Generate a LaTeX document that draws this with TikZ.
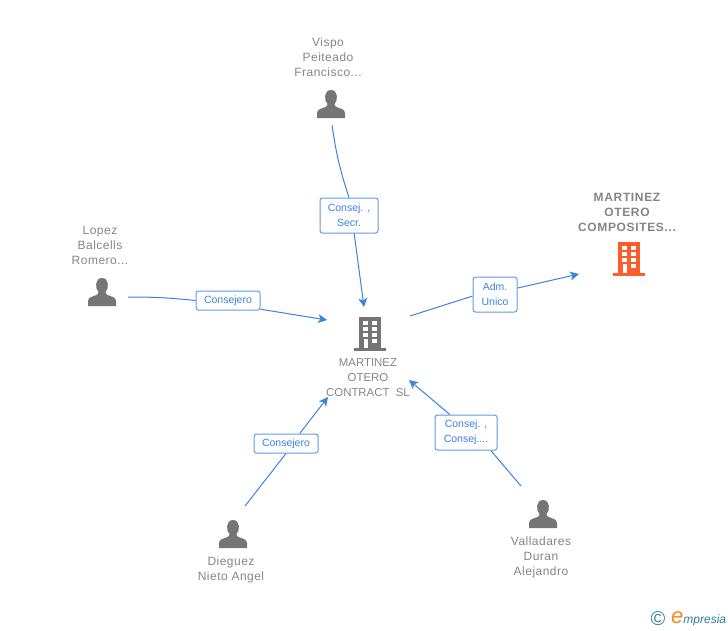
\documentclass[tikz,border=0pt]{standalone}
\usepackage{fontspec}
\setmainfont{Liberation Sans}
\usetikzlibrary{arrows.meta}
\definecolor{name_grey}{HTML}{858585}
\definecolor{icon_grey}{HTML}{757575}
\definecolor{link_blue}{HTML}{3C82E0}
\definecolor{box_blue}{HTML}{5F9BE6}
\definecolor{company_red}{HTML}{FF5C2E}
\definecolor{logo_teal}{HTML}{2F7F96}
\definecolor{logo_orange}{HTML}{F08A1D}
\tikzset{
    name_text/.style = {text = name_grey, align = center, inner sep = 0pt,
        font = \fontsize{12}{15}\selectfont\addfontfeatures{LetterSpace = 4}},
    contract_text/.style = {name_text, font = \fontsize{11.4}{15}\selectfont},
    company_text/.style = {name_text, font = \fontsize{12}{15}\selectfont\bfseries\addfontfeatures{LetterSpace = 5.5}},
    link_box/.style = {draw = box_blue, line width = 1pt, fill = white, rounded corners = 2.5pt, text = link_blue,
        align = center, font = \fontsize{10.5}{15}\selectfont, inner sep = 0pt, minimum height = 19pt},
    two_lines/.style = {minimum height = 35pt},
    link_line/.style = {draw = link_blue, line width = 1pt},
    link_arrow/.style = {link_line, -{Stealth[length = 9pt, width = 9pt, inset = 2.5pt]}},
    person/.pic = {
        \fill[icon_grey] (-14,14) -- (-14,9) .. controls (-14,5) and (-9,4.5) .. (-5.5,3)
            .. controls (-4,2) and (-3.5,1) .. (-3.5,0) .. controls (-7,-3) and (-7.5,-14) .. (0,-14)
            .. controls (7.5,-14) and (7,-3) .. (3.5,0) .. controls (3.5,1) and (4,2) .. (5.5,3)
            .. controls (9,4.5) and (14,5) .. (14,9) -- (14,14) -- cycle;
    },
    building/.pic = {
        \fill[pic actions] (-11,-16) rectangle (11,15);
        \fill[pic actions] (-16,15) rectangle (16,17.5);
        \foreach \row in {-12,-6,0} {
            \fill[white] (-7,\row) rectangle ++(4.5,4);
            \fill[white] (2,\row) rectangle ++(4.5,4);
        }
        \fill[white] (2,6) rectangle ++(4.5,4);
        \fill[white] (-6,6) rectangle (-2.5,15);
    }
}
\begin{document}
\begin{tikzpicture}[x = 1pt, y = -1pt]
    \useasboundingbox (0,0) rectangle (728,630);
    % people and companies
    \node (vispo)[name_text] at (328,57) {Vispo\\Peiteado\\Francisco...};
    \node (lopez)[name_text] at (100,245) {Lopez\\Balcells\\Romero...};
    \node (dieguez)[name_text] at (231,570) {Dieguez\\Nieto Angel};
    \node (valladares)[name_text] at (541,557.5) {Valladares\\Duran\\Alejandro};
    \node (contract)[contract_text] at (368,378) {MARTINEZ\\OTERO\\CONTRACT\ \ SL};
    \node (composites)[company_text] at (627,212) {MARTINEZ\\OTERO\\COMPOSITES...};
    \pic at (331,104) {person};
    \pic at (102,292) {person};
    \pic at (233,534) {person};
    \pic at (543,514) {person};
    \pic[fill = icon_grey] at (370,333) {building};
    \pic[fill = company_red] at (629,258) {building};
    % labels
    \node (vispo_label)[link_box, two_lines, minimum width = 58pt] at (349,215.5) {Consej. ,\\Secr.};
    \node (lopez_label)[link_box, minimum width = 64pt] at (228,300.5) {Consejero};
    \node (adm_label)[link_box, two_lines, minimum width = 44pt] at (495,294.5) {Adm.\\Unico};
    \node (dieguez_label)[link_box, minimum width = 64pt] at (286,443.5) {Consejero};
    \node (valladares_label)[link_box, two_lines, minimum width = 62pt] at (466,432.5) {Consej. ,\\Consej....};
    % free ends
    \coordinate (vispo_out) at (332,125);
    \coordinate (vispo_in) at (364,307);
    \coordinate (lopez_out) at (128,297);
    \coordinate (lopez_in) at (327,320);
    \coordinate (adm_out) at (410,316);
    \coordinate (adm_in) at (579,274);
    \coordinate (dieguez_out) at (245,506);
    \coordinate (dieguez_in) at (328,397);
    \coordinate (valladares_out) at (521,486);
    \coordinate (valladares_in) at (409,380);
    % connectors
    \path(vispo_out) edge[link_line, bend right = 5] (vispo_label.north);
    \path(vispo_label.-74) edge[link_arrow] (vispo_in);
    \path(lopez_out) edge[link_line, bend left = 3] (lopez_label.west);
    \path(lopez_label.-15) edge[link_arrow] (lopez_in);
    \path(adm_out) edge[link_line] (adm_label.184);
    \path(adm_label.16) edge[link_arrow] (adm_in);
    \path(dieguez_out) edge[link_line] (dieguez_label.south);
    \path(dieguez_label.36) edge[link_arrow] (dieguez_in);
    \path(valladares_out) edge[link_line] (valladares_label.-36);
    \path(valladares_label.132) edge[link_arrow] (valladares_in);
    % logo
    \node (logo_mark)[text = logo_teal, font = \fontsize{20}{20}\selectfont, inner sep = 0pt] at (658,619) {©};
    \node (logo_name)[text = logo_teal, font = \fontsize{12}{12}\selectfont\itshape, inner sep = 0pt, anchor = base west] at (671,623)
        {{\color{logo_orange}\fontsize{22}{22}\selectfont e}mpresia};
\end{tikzpicture}
\end{document}
